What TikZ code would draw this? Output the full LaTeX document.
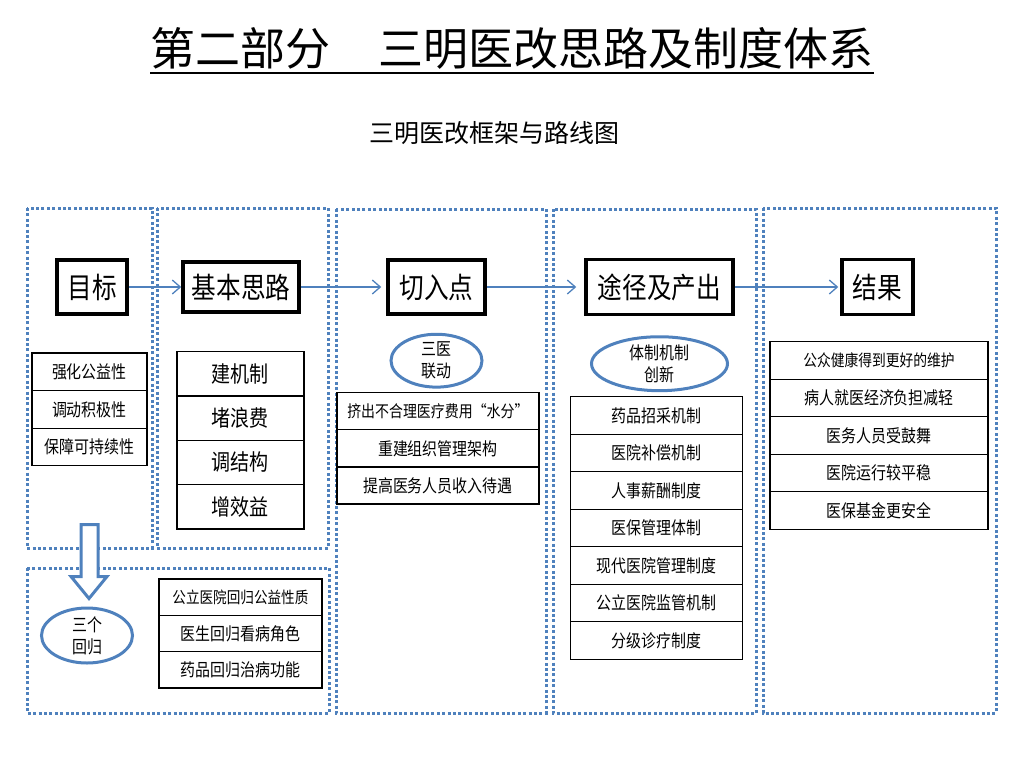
\documentclass[tikz,border=0pt]{standalone}
\usepackage{fontspec}
\setmainfont{Noto Sans CJK SC}[FakeStretch=0.85]
\newfontfamily\titlefont{Noto Sans CJK SC}
\usetikzlibrary{positioning,arrows.meta,shapes.geometric}
\definecolor{panelblue}{HTML}{4F81BD}
\tikzset{
  panel/.style={draw=panelblue, line width=3pt, dash pattern=on 3pt off 2.4pt},
  head_box/.style={draw, line width=3.5pt, inner sep=0pt, font=\fontsize{29}{29}\selectfont},
  item/.style={draw, line width=1.2pt, inner sep=0pt, font=\fontsize{17.6}{20}\selectfont},
  oval/.style={draw=panelblue, line width=3pt, ellipse, align=center, inner sep=0pt,
      minimum height=52, font=\fontsize{17.6}{22}\selectfont},
  flow/.style={draw=panelblue, line width=1.3pt, -{Straight Barb[length=8pt,width=14pt]}},
  big_arrow/.style={draw=panelblue, line width=3pt, fill=white, line join=miter}
}

\begin{document}
\begin{tikzpicture}[x=1pt,y=-1pt]
        \useasboundingbox (0,0) rectangle (1024,768);
        % titles
        \node[font=\titlefont\fontsize{45}{45}\selectfont, inner sep=0pt, anchor=base] (title) at (512,66)
            {第二部分\hspace{48pt}三明医改思路及制度体系};
        \draw[line width=2pt] ([yshift=-7pt]title.base west) -- ([yshift=-7pt]title.base east);
        \node[font=\titlefont\fontsize{25}{25}\selectfont, inner sep=0pt] (subtitle) at (494,133) {三明医改框架与路线图};

        % dotted frames
        \draw[panel] (27,208) rectangle (152,548);
        \draw[panel] (157,208) rectangle (328,548);
        \draw[panel] (27,568) rectangle (329,713);
        \draw[panel] (336,209) rectangle (546,713);
        \draw[panel] (553,209) rectangle (756,713);
        \draw[panel] (763,208) rectangle (996,713);

        % header boxes
        \node[head_box, minimum width=70, minimum height=54] (mb) at (92,287) {目标};
        \node[head_box, minimum width=116, minimum height=50] (jb) at (241,287) {基本思路};
        \node[head_box, minimum width=97, minimum height=54] (qr) at (436.5,287) {切入点};
        \node[head_box, minimum width=147, minimum height=55] (tj) at (659.5,287) {途径及产出};
        \node[head_box, minimum width=71, minimum height=55] (jg) at (877.5,287) {结果};

        \draw[flow] (mb) -- (jb);
        \draw[flow, shorten >=5pt] (jb) -- (qr);
        \draw[flow, shorten >=8pt] (qr) -- (tj);
        \draw[flow, shorten >=2pt] (tj) -- (jg);

        % lists
        \foreach \t [count=\i from 0] in {强化公益性,调动积极性,保障可持续性}
            \node[item, minimum width=115, minimum height=37.6] (goal\i) at (89.4,371.8+37.6*\i) {\t};
        \foreach \t [count=\i from 0] in {建机制,堵浪费,调结构,增效益}
            \node[item, minimum width=127, minimum height=44.3, font=\fontsize{22.4}{24}\selectfont]
                (idea\i) at (240.4,373.85+44.3*\i) {\t};
        \foreach \t [count=\i from 0] in {{\fontsize{16}{18}\selectfont 公立医院回归公益性质},医生回归看病角色,药品回归治病功能}
            \node[item, minimum width=163, minimum height=36.3]
                (back\i) at (240.4,597.15+36.3*\i) {\t};
        \foreach \t [count=\i from 0] in {{\fontsize{16.4}{18}\selectfont 挤出不合理医疗费用“水分”},重建组织管理架构,提高医务人员收入待遇}
            \node[item, minimum width=202, minimum height=37.1] (entry\i) at (437.9,411.25+37.1*\i) {\t};
        \foreach \t [count=\i from 0] in {药品招采机制,医院补偿机制,人事薪酬制度,医保管理体制,
                现代医院管理制度,公立医院监管机制,分级诊疗制度}
            \node[item, minimum width=172, minimum height=37.5] (path\i) at (656.7,415.45+37.5*\i) {\t};
        \foreach \t [count=\i from 0] in {{\fontsize{16.2}{18}\selectfont 公众健康得到更好的维护},
                病人就医经济负担减轻,医务人员受鼓舞,医院运行较平稳,医保基金更安全}
            \node[item, minimum width=218, minimum height=37.5] (res\i) at (879,360.45+37.5*\i) {\t};

        % ovals
        \node[oval, minimum width=91] (sy) [below=17pt of qr] {三医\\联动};
        \node[oval, minimum width=136] (tz) [below=19pt of tj] {体制机制\\创新};
        \node[oval, minimum width=91, minimum height=55] (hg) at (87,635.5) {三个\\回归};

        % hollow arrow down to the oval
        \draw[big_arrow] ([xshift=2pt,yshift=8pt]hg.north) -- ++(-18,-22) -- ++(10,0) -- ++(0,-52)
            -- ++(17,0) -- ++(0,52) -- ++(9,0) -- cycle;
      \end{tikzpicture}
\end{document}
